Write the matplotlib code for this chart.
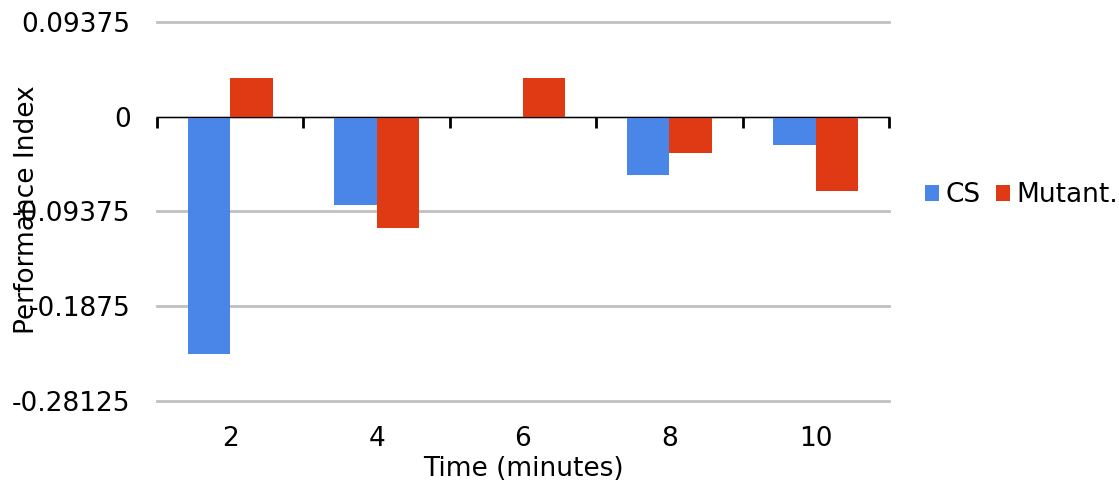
import matplotlib.pyplot as plt
import numpy as np

# performance index per time point
times = ['2', '4', '6', '8', '10']
cs = [-0.235, -0.0874, 0.0, -0.0581, -0.028]
mutant = [0.038, -0.1106, 0.038, -0.0363, -0.0736]
yticks = [0.09375, 0, -0.09375, -0.1875, -0.28125]
ytick_labels = ['0.09375', '0', '-0.09375', '-0.1875', '-0.28125']

plt.rcParams['font.family'] = ['DejaVu Sans']
fs = 19

fig = plt.figure(figsize=(11.19, 4.84), dpi=100)
ax = fig.add_axes([157 / 1119, 1 - 400.7 / 484, 732 / 1119, 378.7 / 484])

x = np.arange(len(times))
w = 0.29
ax.bar(x - w / 2, cs, w, color='#4a86e8', label='CS', zorder=3)
ax.bar(x + w / 2, mutant, w, color='#df3a13', label='Mutant.', zorder=3)

ax.set_xlim(-0.5, len(times) - 0.5)
ax.set_ylim(-0.28125, 0.09375)
ax.set_yticks(yticks)
ax.set_yticklabels(ytick_labels)
ax.grid(axis='y', color='#c0c0c0', linewidth=2, zorder=0)
for gl in ax.get_ygridlines():
    gl.set_clip_on(False)
ax.tick_params(axis='y', length=0, pad=19, labelsize=fs)

ax.set_xticks(x)
ax.set_xticklabels(times)
ax.tick_params(axis='x', length=0, pad=18, labelsize=fs)
for s in ax.spines.values():
    s.set_visible(False)

# zero line with category separators
sec = ax.secondary_xaxis(0.75)
sec.spines['bottom'].set_color('black')
sec.spines['bottom'].set_linewidth(2.2)
sec.set_xticks(np.arange(len(times) + 1) - 0.5)
sec.set_xticklabels([])
sec.tick_params(axis='x', direction='in', length=8, width=2, color='black')
sec.set_zorder(4)

ax.set_xlabel('Time (minutes)', fontsize=fs, labelpad=3)
fig.text(27 / 1119, 1 - 210 / 484, 'Performance Index', rotation=90,
         ha='center', va='center', fontsize=fs)

fig.legend(loc='center left', bbox_to_anchor=(901 / 1119, 1 - 195 / 484),
           ncol=2, frameon=False, fontsize=fs, handlelength=0.55,
           handleheight=0.55, handletextpad=0.25, columnspacing=0.55)

fig.savefig('out.png', dpi=100)
